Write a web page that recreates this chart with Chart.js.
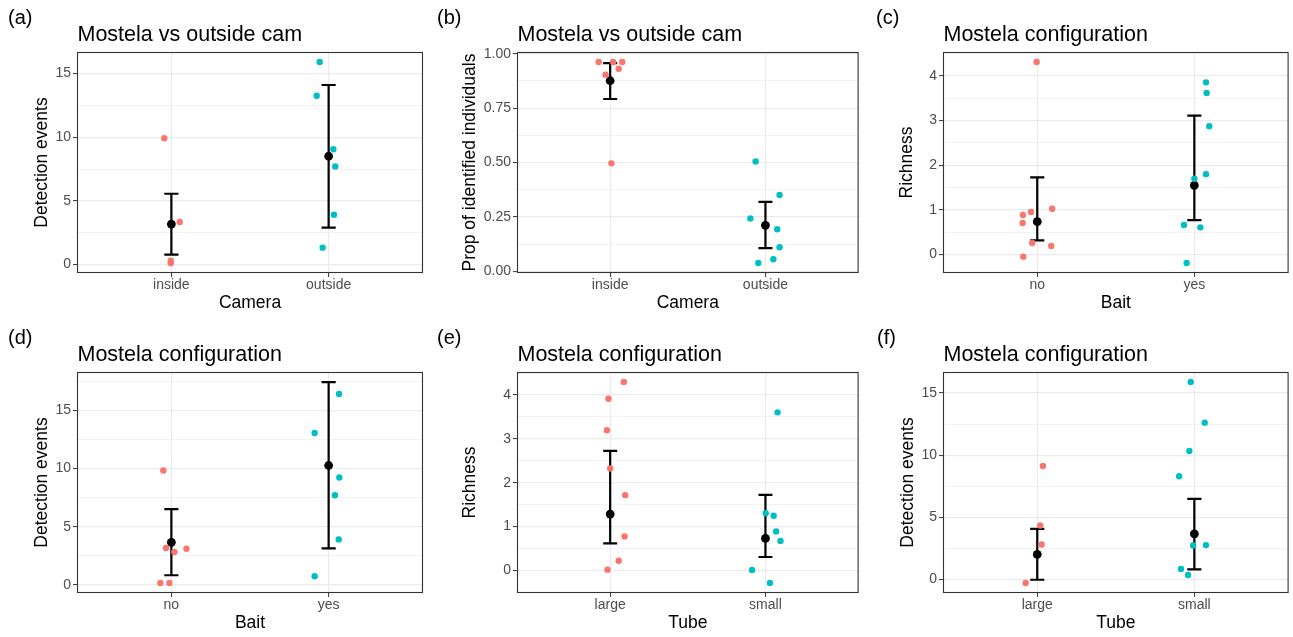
<!DOCTYPE html>
<html>
<head>
<meta charset="utf-8">
<script src="https://cdn.jsdelivr.net/npm/chart.js@4.4.1/dist/chart.umd.min.js"></script>
<style>
html, body { margin: 0; padding: 0; background: #fff; }
#wrap { position: relative; width: 1293px; height: 637px; overflow: hidden; }
canvas { position: absolute; }
</style>
</head>
<body>
<div id="wrap">
<canvas id="pa" width="431" height="317" style="left:0px;top:0px"></canvas>
<canvas id="pb" width="432" height="317" style="left:431px;top:0px"></canvas>
<canvas id="pc" width="430" height="317" style="left:863px;top:0px"></canvas>
<canvas id="pd" width="431" height="317" style="left:0px;top:320px"></canvas>
<canvas id="pe" width="432" height="317" style="left:431px;top:320px"></canvas>
<canvas id="pf" width="430" height="317" style="left:863px;top:320px"></canvas>
</div>
<script>
const RED = '#F8766D', CYAN = '#00BFC4';
const FONT = "'Liberation Sans', Arial, sans-serif";

// (a) Mostela vs outside cam - detection events
const camCats = ['inside', 'outside'];
const aInY   = [9.91, 3.34, 0.31, 0.13];
const aInJx  = [-0.045, 0.053, -0.004, -0.004];
const aOutY  = [15.89, 13.25, 9.05, 7.70, 3.91, 1.33];
const aOutJx = [-0.057, -0.076, 0.030, 0.042, 0.034, -0.038];
const aMean = [3.18, 8.50];
const aLow  = [0.78, 2.90];
const aHigh = [5.56, 14.09];
const aTicks = [0, 5, 10, 15];
const aTickLabels = ['0', '5', '10', '15'];
const aMinor = [2.5, 7.5, 12.5, 17.5];

// (b) Mostela vs outside cam - proportion of identified individuals
const bInY   = [0.962, 0.962, 0.962, 0.931, 0.904, 0.496];
const bInJx  = [-0.074, 0.019, 0.078, 0.055, -0.030, 0.008];
const bOutY  = [0.505, 0.351, 0.243, 0.193, 0.110, 0.055, 0.038];
const bOutJx = [-0.063, 0.091, -0.097, 0.076, 0.091, 0.051, -0.046];
const bMean = [0.876, 0.211];
const bLow  = [0.792, 0.106];
const bHigh = [0.957, 0.319];
const bTicks = [0, 0.25, 0.5, 0.75, 1];
const bTickLabels = ['0.00', '0.25', '0.50', '0.75', '1.00'];
const bMinor = [0.125, 0.375, 0.625, 0.875];

// (c) Mostela configuration - richness by bait
const baitCats = ['no', 'yes'];
const cNoY   = [4.305, 0.885, 0.952, 1.026, 0.706, 0.260, 0.193, -0.045];
const cNoJx  = [-0.004, -0.091, -0.040, 0.095, -0.093, -0.032, 0.089, -0.089];
const cYesY  = [3.851, 3.613, 2.870, 1.799, 1.695, 0.662, 0.610, -0.186];
const cYesJx = [0.074, 0.078, 0.095, 0.074, 0.000, -0.066, 0.038, -0.049];
const cMean = [0.736, 1.546];
const cLow  = [0.320, 0.773];
const cHigh = [1.725, 3.108];
const cTicks = [0, 1, 2, 3, 4];
const cTickLabels = ['0', '1', '2', '3', '4'];
const cMinor = [-0.5, 0.5, 1.5, 2.5, 3.5, 4.5];

// (d) Mostela configuration - detection events by bait
const dNoY   = [9.83, 3.17, 2.83, 3.11, 0.17, 0.17];
const dNoJx  = [-0.051, -0.034, 0.019, 0.096, -0.070, -0.013];
const dYesY  = [16.40, 13.06, 9.23, 7.71, 3.91, 0.74];
const dYesJx = [0.066, -0.089, 0.068, 0.040, 0.064, -0.089];
const dMean = [3.66, 10.26];
const dLow  = [0.83, 3.14];
const dHigh = [6.51, 17.43];
const dTicks = [0, 5, 10, 15];
const dTickLabels = ['0', '5', '10', '15'];
const dMinor = [2.5, 7.5, 12.5, 17.5];

// (e) Mostela configuration - richness by tube
const tubeCats = ['large', 'small'];
const eLargeY  = [4.296, 3.916, 3.195, 2.323, 1.715, 0.774, 0.220, 0.015];
const eLargeJx = [0.088, -0.011, -0.021, 0.000, 0.097, 0.093, 0.055, -0.017];
const eSmallY  = [3.605, 1.305, 1.245, 0.888, 0.668, 0.008, -0.288];
const eSmallJx = [0.078, 0.002, 0.053, 0.069, 0.097, -0.086, 0.029];
const eMean = [1.283, 0.729];
const eLow  = [0.615, 0.304];
const eHigh = [2.725, 1.723];
const eTicks = [0, 1, 2, 3, 4];
const eTickLabels = ['0', '1', '2', '3', '4'];
const eMinor = [-0.5, 0.5, 1.5, 2.5, 3.5, 4.5];

// (f) Mostela configuration - detection events by tube
const fLargeY  = [9.13, 4.34, 2.81, -0.29];
const fLargeJx = [0.036, 0.019, 0.028, -0.074];
const fSmallY  = [15.89, 12.62, 10.34, 8.30, 2.73, 2.76, 0.83, 0.35];
const fSmallJx = [-0.023, 0.066, -0.032, -0.097, -0.008, 0.074, -0.085, -0.040];
const fMean = [2.01, 3.67];
const fLow  = [-0.03, 0.80];
const fHigh = [4.07, 6.48];
const fTicks = [0, 5, 10, 15];
const fTickLabels = ['0', '5', '10', '15'];
const fMinor = [-2.5, 2.5, 7.5, 12.5, 17.5];

const CAP_W = 0.09;

function toPoints(cat, jx, ys) {
    return ys.map((y, i) => ({ x: cat + jx[i], y: y }));
}

function makePanel(id, p) {
    // ggplot-like 5% expansion of the y range
    let all = p.y1.concat(p.y2, p.low, p.high);
    let lo = Math.min(...all), hi = Math.max(...all);
    let pad = (hi - lo) * 0.05;
    let ymin = lo - pad, ymax = hi + pad;
    let minor = p.minor.filter(v => v > ymin && v < ymax);
    let yTickVals = p.ticks.concat(minor).sort((u, v) => u - v);
    let isMajor = v => p.ticks.indexOf(v) >= 0;

    let decor = {
        id: 'decor_' + id,
        beforeDatasetDraw(chart, args) {
            if (args.index !== 2) return;
            let xs = chart.scales.x, ys = chart.scales.y, ctx = chart.ctx;
            ctx.save();
            ctx.strokeStyle = '#000';
            ctx.lineWidth = 2.2;
            for (let i = 0; i < p.low.length; i++) {
                let c = i + 1;
                let x = xs.getPixelForValue(c);
                let x0 = xs.getPixelForValue(c - CAP_W / 2);
                let x1 = xs.getPixelForValue(c + CAP_W / 2);
                let yl = ys.getPixelForValue(p.low[i]);
                let yh = ys.getPixelForValue(p.high[i]);
                ctx.beginPath();
                ctx.moveTo(x, yl); ctx.lineTo(x, yh);
                ctx.moveTo(x0, yl); ctx.lineTo(x1, yl);
                ctx.moveTo(x0, yh); ctx.lineTo(x1, yh);
                ctx.stroke();
            }
            ctx.restore();
        },
        afterDatasetsDraw(chart) {
            let a = chart.chartArea, ctx = chart.ctx;
            ctx.save();
            ctx.strokeStyle = '#333333';
            ctx.lineWidth = 1.1;
            ctx.strokeRect(a.left + 0.5, a.top + 0.5, a.right - a.left - 1, a.bottom - a.top - 1);
            ctx.restore();
        },
        afterDraw(chart) {
            let ctx = chart.ctx;
            ctx.save();
            ctx.fillStyle = '#000';
            ctx.textBaseline = 'alphabetic';
            ctx.textAlign = 'left';
            ctx.font = '21.5px ' + FONT;
            ctx.fillText(p.title, chart.chartArea.left + 0.5, 41);
            ctx.font = '20px ' + FONT;
            ctx.fillText(p.tag, p.tagX, 24);
            ctx.restore();
        }
    };

    new Chart(document.getElementById(id), {
        type: 'scatter',
        data: {
            datasets: [
                { data: toPoints(1, p.jx1, p.y1), backgroundColor: RED, pointRadius: 3.2, borderWidth: 0 },
                { data: toPoints(2, p.jx2, p.y2), backgroundColor: CYAN, pointRadius: 3.2, borderWidth: 0 },
                { data: p.mean.map((m, i) => ({ x: i + 1, y: m })), backgroundColor: '#000', pointRadius: 4.4, borderWidth: 0 }
            ]
        },
        options: {
            responsive: false,
            animation: false,
            devicePixelRatio: 1,
            layout: { padding: { left: 0, right: p.padR, top: 52, bottom: 0 } },
            plugins: { legend: { display: false }, tooltip: { enabled: false } },
            scales: {
                x: {
                    type: 'linear',
                    min: 0.4, max: 2.6,
                    bounds: 'data',
                    afterBuildTicks: s => { s.ticks = [{ value: 1 }, { value: 2 }]; },
                    afterFit: s => { s.height = 44; },
                    border: { display: false },
                    grid: { color: '#EBEBEB', lineWidth: 1.2, tickLength: 4, tickColor: '#333333', tickWidth: 1 },
                    ticks: {
                        autoSkip: false, maxRotation: 0, padding: 0,
                        color: '#4D4D4D', font: { family: FONT, size: 14 },
                        callback: v => p.cats[v - 1]
                    },
                    title: {
                        display: true, text: p.xTitle, color: '#000',
                        font: { family: FONT, size: 17.5 }, padding: { top: 0, bottom: 3 }
                    }
                },
                y: {
                    type: 'linear',
                    min: ymin, max: ymax,
                    bounds: 'data',
                    afterBuildTicks: s => { s.ticks = yTickVals.map(v => ({ value: v })); },
                    afterFit: s => { s.width = p.left; },
                    border: { display: false },
                    grid: {
                        color: c => (c.tick && isMajor(c.tick.value)) ? '#EBEBEB' : '#F3F3F3',
                        lineWidth: c => (c.tick && isMajor(c.tick.value)) ? 1.2 : 1,
                        tickLength: 4,
                        tickColor: c => (c.tick && isMajor(c.tick.value)) ? '#333333' : 'rgba(0,0,0,0)',
                        tickWidth: 1
                    },
                    ticks: {
                        autoSkip: false, padding: 2,
                        color: '#4D4D4D', font: { family: FONT, size: 14 },
                        callback: v => { let k = p.ticks.indexOf(v); return k >= 0 ? p.tickLabels[k] : ''; }
                    },
                    title: {
                        display: true, text: p.yTitle, color: '#000',
                        font: { family: FONT, size: 17.5 }, padding: { top: p.yTitlePad, bottom: 0 }
                    }
                }
            }
        },
        plugins: [decor]
    });
}

makePanel('pa', {
    tag: '(a)', tagX: 8, title: 'Mostela vs outside cam', xTitle: 'Camera', yTitle: 'Detection events',
    cats: camCats, y1: aInY, jx1: aInJx, y2: aOutY, jx2: aOutJx,
    mean: aMean, low: aLow, high: aHigh, ticks: aTicks, tickLabels: aTickLabels, minor: aMinor,
    left: 77, padR: 8, yTitlePad: 32
});
makePanel('pb', {
    tag: '(b)', tagX: 6, title: 'Mostela vs outside cam', xTitle: 'Camera', yTitle: 'Prop of identified individuals',
    cats: camCats, y1: bInY, jx1: bInJx, y2: bOutY, jx2: bOutJx,
    mean: bMean, low: bLow, high: bHigh, ticks: bTicks, tickLabels: bTickLabels, minor: bMinor,
    left: 86, padR: 1, yTitlePad: 29
});
makePanel('pc', {
    tag: '(c)', tagX: 13, title: 'Mostela configuration', xTitle: 'Bait', yTitle: 'Richness',
    cats: baitCats, y1: cNoY, jx1: cNoJx, y2: cYesY, jx2: cYesJx,
    mean: cMean, low: cLow, high: cHigh, ticks: cTicks, tickLabels: cTickLabels, minor: cMinor,
    left: 80, padR: 4, yTitlePad: 34
});
makePanel('pd', {
    tag: '(d)', tagX: 8, title: 'Mostela configuration', xTitle: 'Bait', yTitle: 'Detection events',
    cats: baitCats, y1: dNoY, jx1: dNoJx, y2: dYesY, jx2: dYesJx,
    mean: dMean, low: dLow, high: dHigh, ticks: dTicks, tickLabels: dTickLabels, minor: dMinor,
    left: 77, padR: 8, yTitlePad: 32
});
makePanel('pe', {
    tag: '(e)', tagX: 6, title: 'Mostela configuration', xTitle: 'Tube', yTitle: 'Richness',
    cats: tubeCats, y1: eLargeY, jx1: eLargeJx, y2: eSmallY, jx2: eSmallJx,
    mean: eMean, low: eLow, high: eHigh, ticks: eTicks, tickLabels: eTickLabels, minor: eMinor,
    left: 86, padR: 1, yTitlePad: 29
});
makePanel('pf', {
    tag: '(f)', tagX: 14, title: 'Mostela configuration', xTitle: 'Tube', yTitle: 'Detection events',
    cats: tubeCats, y1: fLargeY, jx1: fLargeJx, y2: fSmallY, jx2: fSmallJx,
    mean: fMean, low: fLow, high: fHigh, ticks: fTicks, tickLabels: fTickLabels, minor: fMinor,
    left: 80, padR: 4, yTitlePad: 35
});
</script>
</body>
</html>
